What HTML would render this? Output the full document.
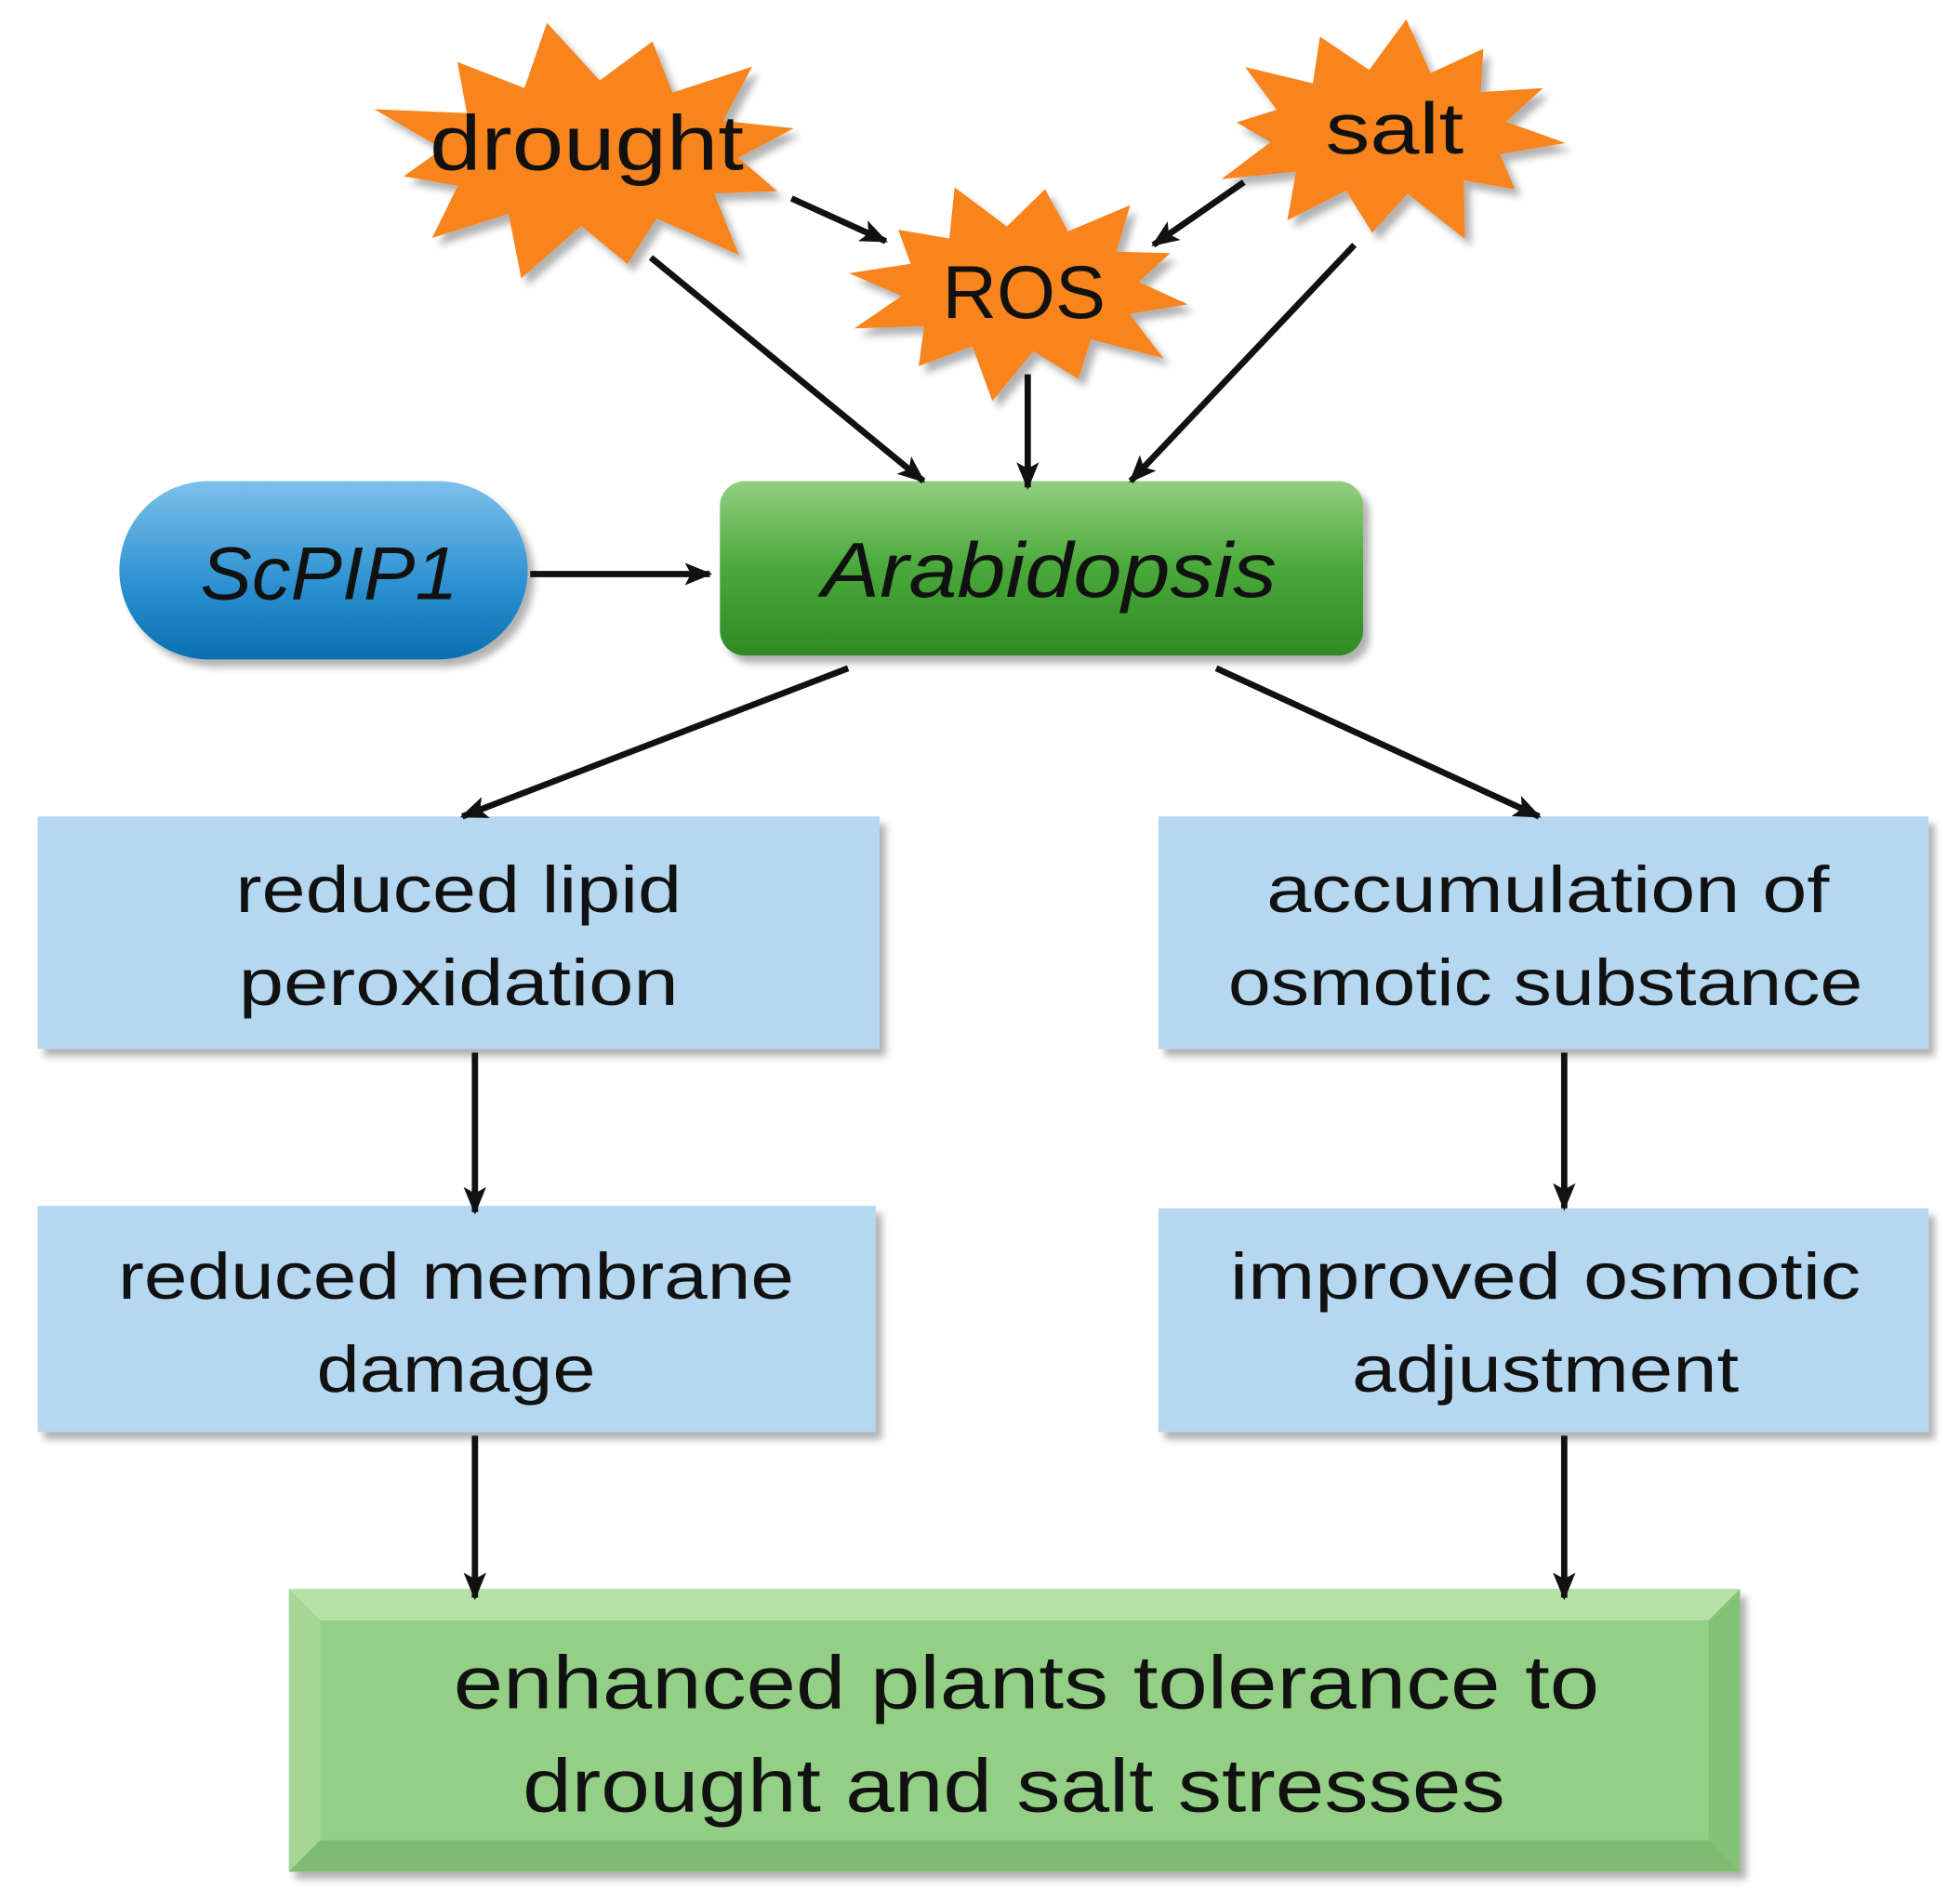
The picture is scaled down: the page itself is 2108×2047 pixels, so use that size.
<!DOCTYPE html>
<html><head><meta charset="utf-8">
<style>
html,body{margin:0;padding:0;background:#fff;}
svg{display:block;}
text{font-family:"Liberation Sans",sans-serif;fill:#111;}
</style></head>
<body>
<svg id="s" width="2108" height="2047" viewBox="0 0 1560 1515" preserveAspectRatio="none" xmlns="http://www.w3.org/2000/svg">
<defs>
<linearGradient id="gb" x1="0" y1="0" x2="0" y2="1">
<stop offset="0" stop-color="#7cc0ea"/><stop offset="0.6" stop-color="#2a8fd0"/><stop offset="1" stop-color="#0a6fb0"/></linearGradient>
<linearGradient id="gg" x1="0" y1="0" x2="0" y2="1">
<stop offset="0" stop-color="#92cf80"/><stop offset="0.5" stop-color="#4aa83a"/><stop offset="1" stop-color="#2f8a25"/></linearGradient>
<filter id="sh" x="-10%" y="-10%" width="130%" height="140%"><feDropShadow dx="5" dy="6" stdDeviation="3" flood-color="#000" flood-opacity="0.3"/></filter>
<marker id="ah" markerWidth="10" markerHeight="10" refX="8" refY="5" orient="auto" markerUnits="userSpaceOnUse" viewBox="0 0 10 10">
<path d="M0,0 L10,5 L0,10 Z" fill="#111"/></marker>
<marker id="ah2" markerWidth="22" markerHeight="18" refX="20" refY="9" orient="auto" markerUnits="userSpaceOnUse">
<path d="M0,0 L22,9 L0,18 L5,9 Z" fill="#111"/></marker>
</defs>

<g id="stars" filter="url(#sh)"></g>

<!-- ScPIP1 -->
<rect x="95" y="383" width="325" height="142" rx="71" ry="71" fill="url(#gb)" filter="url(#sh)"/>
<text x="262" y="477" font-size="60" font-style="italic" text-anchor="middle" textLength="205" lengthAdjust="spacingAndGlyphs">ScPIP1</text>

<!-- Arabidopsis -->
<rect x="573" y="383" width="512" height="139" rx="20" fill="url(#gg)" filter="url(#sh)"/>
<text x="835" y="475" font-size="62" font-style="italic" text-anchor="middle" textLength="362" lengthAdjust="spacingAndGlyphs">Arabidopsis</text>

<!-- blue boxes -->
<g fill="#b5d7f0" filter="url(#sh)">
<rect x="30" y="650" width="670" height="185"/>
<rect x="922" y="650" width="613" height="185"/>
<rect x="30" y="960" width="667" height="180"/>
<rect x="922" y="962" width="613" height="178"/>
</g>
<g font-size="52" text-anchor="middle">
<text x="365" y="726" textLength="355" lengthAdjust="spacingAndGlyphs">reduced lipid</text>
<text x="365" y="800" textLength="350" lengthAdjust="spacingAndGlyphs">peroxidation</text>
<text x="1232" y="726" textLength="448" lengthAdjust="spacingAndGlyphs">accumulation  of</text>
<text x="1230" y="800" textLength="505" lengthAdjust="spacingAndGlyphs">osmotic substance</text>
<text x="363" y="1034" textLength="538" lengthAdjust="spacingAndGlyphs">reduced membrane</text>
<text x="363" y="1108" textLength="222" lengthAdjust="spacingAndGlyphs">damage</text>
<text x="1230" y="1034" textLength="502" lengthAdjust="spacingAndGlyphs">improved osmotic</text>
<text x="1230" y="1108" textLength="308" lengthAdjust="spacingAndGlyphs">adjustment</text>
</g>

<!-- bottom bevel box -->
<g filter="url(#sh)">
<rect x="230" y="1265" width="1155" height="225" fill="#93cf85"/>
</g>
<polygon points="230,1265 1385,1265 1360,1290 255,1290" fill="#b6e2a8"/>
<polygon points="230,1265 255,1290 255,1465 230,1490" fill="#a5d897"/>
<polygon points="1385,1265 1385,1490 1360,1465 1360,1290" fill="#84c275"/>
<polygon points="230,1490 255,1465 1360,1465 1385,1490" fill="#7fbb70"/>
<g font-size="60" text-anchor="middle">
<text x="817" y="1360" textLength="912" lengthAdjust="spacingAndGlyphs">enhanced plants tolerance to</text>
<text x="807" y="1442" textLength="782" lengthAdjust="spacingAndGlyphs">drought and salt stresses</text>
</g>

<!-- arrows -->
<g stroke="#111" stroke-width="5" fill="none" marker-end="url(#ah2)">
<line x1="518" y1="205" x2="735" y2="383"/>
<line x1="630" y1="158" x2="705" y2="192"/>
<line x1="990" y1="145" x2="918" y2="195"/>
<line x1="1078" y1="195" x2="900" y2="383"/>
<line x1="818" y1="298" x2="818" y2="388"/>
<line x1="422" y1="457" x2="565" y2="457"/>
<line x1="675" y1="532" x2="368" y2="650"/>
<line x1="968" y1="532" x2="1225" y2="650"/>
<line x1="378" y1="838" x2="378" y2="965"/>
<line x1="1245" y1="838" x2="1245" y2="962"/>
<line x1="378" y1="1143" x2="378" y2="1272"/>
<line x1="1245" y1="1143" x2="1245" y2="1272"/>
</g>

<g id="labels">
<text x="467" y="135" font-size="62" text-anchor="middle" textLength="250" lengthAdjust="spacingAndGlyphs">drought</text>
<text x="1110" y="122" font-size="58" text-anchor="middle" textLength="110" lengthAdjust="spacingAndGlyphs">salt</text>
<text x="815" y="253" font-size="60" text-anchor="middle" textLength="130" lengthAdjust="spacingAndGlyphs">ROS</text>
</g>
</svg>
<script>
(function(){
var NS="http://www.w3.org/2000/svg";
var g=document.getElementById("stars");
function star(cx,cy,rx,ry,irx,iry,n,rot,jit){
  var pts=[];
  for(var i=0;i<2*n;i++){
    var a=rot+Math.PI*i/n;
    var outer=i%2===0;
    var f=outer?(1+jit[(i/2)%jit.length]):1;
    var r1=outer?rx*f:irx, r2=outer?ry*f:iry;
    pts.push((cx+r1*Math.cos(a)).toFixed(1)+","+(cy+r2*Math.sin(a)).toFixed(1));
  }
  var p=document.createElementNS(NS,"polygon");
  p.setAttribute("points",pts.join(" "));
  p.setAttribute("fill","#f7841f");
  g.appendChild(p);
}
star(470,122,165,100,118,58,12,-0.2,[0,-0.05,0.08,-0.1,0.05,0.02,-0.08,0.1,-0.03,0.06,-0.06,0.04]);
star(1105,105,135,85,95,50,12,0.1,[0.05,-0.08,0.1,-0.05,0.02,0.08,-0.1,0.04,-0.02,0.06,-0.04,0]);
star(812,230,135,82,95,50,12,0.15,[0,0.08,-0.06,0.1,-0.04,0.05,0.02,-0.08,0.06,-0.02,0.04,-0.05]);
})();
</script>
</body></html>
